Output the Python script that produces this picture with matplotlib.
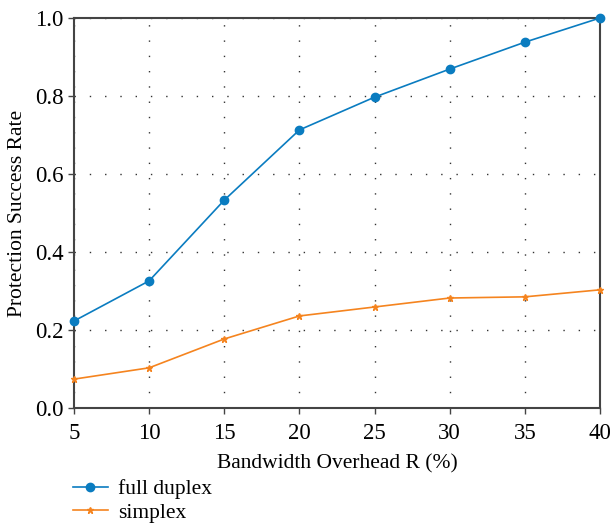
import matplotlib.pyplot as plt

overhead = [5, 10, 15, 20, 25, 30, 35, 40]
full_duplex = [0.223, 0.326, 0.533, 0.713, 0.797, 0.869, 0.938, 1.0]
simplex = [0.074, 0.103, 0.177, 0.236, 0.259, 0.282, 0.285, 0.303]

plt.rcParams['font.family'] = ['Liberation Serif', 'DejaVu Serif']

fig = plt.figure(figsize=(6.1, 5.23), dpi=100)
ax = fig.add_axes([0.1213, 0.2199, 0.8623, 0.7457])

ax.plot(overhead, full_duplex, color='#0A7CC0', marker='o', markersize=6,
        linewidth=1.2, label='full duplex', clip_on=False, zorder=3)
ax.plot(overhead, simplex, color='#F5841F', marker='*', markersize=5,
        linewidth=1.2, label='simplex', clip_on=False, zorder=3)

ax.set_xlim(5, 40)
ax.set_ylim(0, 1)
ax.set_xticks(overhead)
ax.set_yticks([0, 0.2, 0.4, 0.6, 0.8, 1.0])
ax.set_yticklabels(['0.0', '0.2', '0.4', '0.6', '0.8', '1.0'])

ax.grid(True, linestyle=(0, (1, 10)), color='#333333', linewidth=1.0)
ax.tick_params(labelsize=16.5, direction='out', length=4, width=1, color='#444444')
ax.tick_params(axis='x', pad=7)
for s in ax.spines.values():
    s.set_color('#444444')
    s.set_linewidth(1.5)

ax.set_xlabel('Bandwidth Overhead R (%)', fontsize=15.5, labelpad=7)
ax.set_ylabel('Protection Success Rate', fontsize=15.5, labelpad=6)

fig.legend(loc='upper left', bbox_to_anchor=(0.106, 0.1), frameon=False,
           fontsize=15.5, handlelength=1.6, handletextpad=0.5,
           borderaxespad=0, labelspacing=0.15)

fig.savefig('out.png', dpi=100)
